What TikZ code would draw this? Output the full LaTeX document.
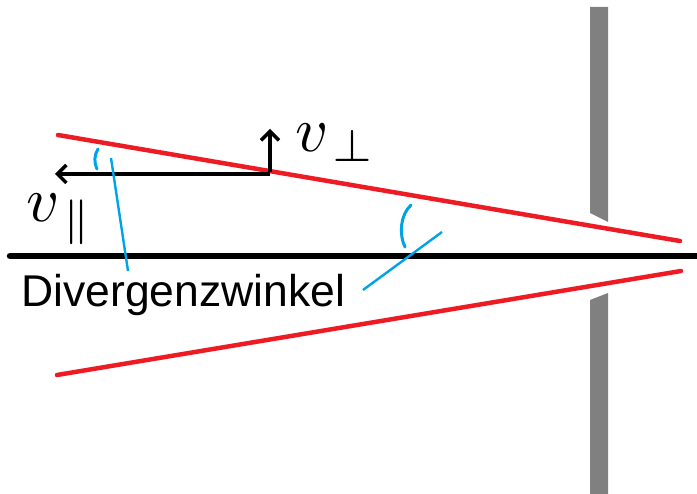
\documentclass[tikz,border=0pt]{standalone}
\usepackage[no-math]{fontspec}
\usepackage{graphicx}
\newfontfamily\labelfont{Liberation Sans}
\usetikzlibrary{arrows.meta}
\definecolor{wallgray}{RGB}{128,128,128}
\definecolor{beamred}{RGB}{237,28,36}
\definecolor{angleblue}{RGB}{0,162,232}
\tikzset{
  wall/.style={fill=wallgray,draw=none},
  beam/.style={draw=beamred,line width=4.5pt,line cap=round},
  axisline/.style={draw=black,line width=6.5pt,line cap=round},
  vec/.style={draw=black,line width=3.5pt,-{Straight Barb[length=9pt,width=18pt,line width=3.5pt]}},
  angmark/.style={draw=angleblue,line width=3pt,line cap=round},
  leader/.style={draw=angleblue,line width=2.4pt},
  mathlbl/.style={inner sep=0pt},
}
\newcommand{\bigmath}[1]{\scalebox{6.4}{$#1$}}
\begin{document}
\begin{tikzpicture}[x=1pt,y=-1pt]
\useasboundingbox (0,0) rectangle (697,494);
% wall
\fill[wall] (590,7) -- (608,7) -- (608,222) -- (590,213) -- cycle;
\fill[wall] (590,300) -- (608,293) -- (608,494) -- (590,494) -- cycle;
% coordinates
\coordinate (ua) at (58,135);
\coordinate (ub) at (680,241);
\coordinate (la) at (57,375);
\coordinate (lb) at (681,271);
\coordinate (axl) at (10,256);
\coordinate (axr) at (700,256);
\coordinate (o) at (270,174);
\coordinate (par) at (55,174);
\coordinate (perp) at (270,129);
% beams and axis
\draw[beam] (ua) -- (ub);
\draw[beam] (la) -- (lb);
\draw[axisline] (axl) -- (axr);
% velocity arrows
\draw[vec] (o) -- (par);
\draw[vec] ([yshift=1.75pt]o) -- (perp);
% labels
\node[mathlbl,anchor=base west] (vperp) at (295,152) {\bigmath{v_{\mkern2mu\perp}}};
\node[mathlbl,anchor=base west] (vpar) at (26,222) {\bigmath{v_{\mkern2mu\|}}};
\node[inner sep=0pt,anchor=base west,font=\labelfont\fontsize{44.5}{52}\selectfont] (div) at (21,307) {Divergenzwinkel};
% angle marks
\coordinate (a1s) at (98,149);
\coordinate (a1e) at (97,169);
\draw[angmark] (a1s) .. controls (94,155) and (94,163) .. (a1e);
\coordinate (a2s) at (411,205);
\coordinate (a2e) at (405,247);
\draw[angmark] (a2s) .. controls (400,215) and (399,235) .. (a2e);
% leader lines
\coordinate (l1s) at (111,158);
\coordinate (l1e) at (128,271);
\draw[leader] (l1s) -- (l1e);
\coordinate (l2s) at (442,232);
\coordinate (l2e) at (363,290);
\draw[leader] (l2s) -- (l2e);
\end{tikzpicture}
\end{document}
